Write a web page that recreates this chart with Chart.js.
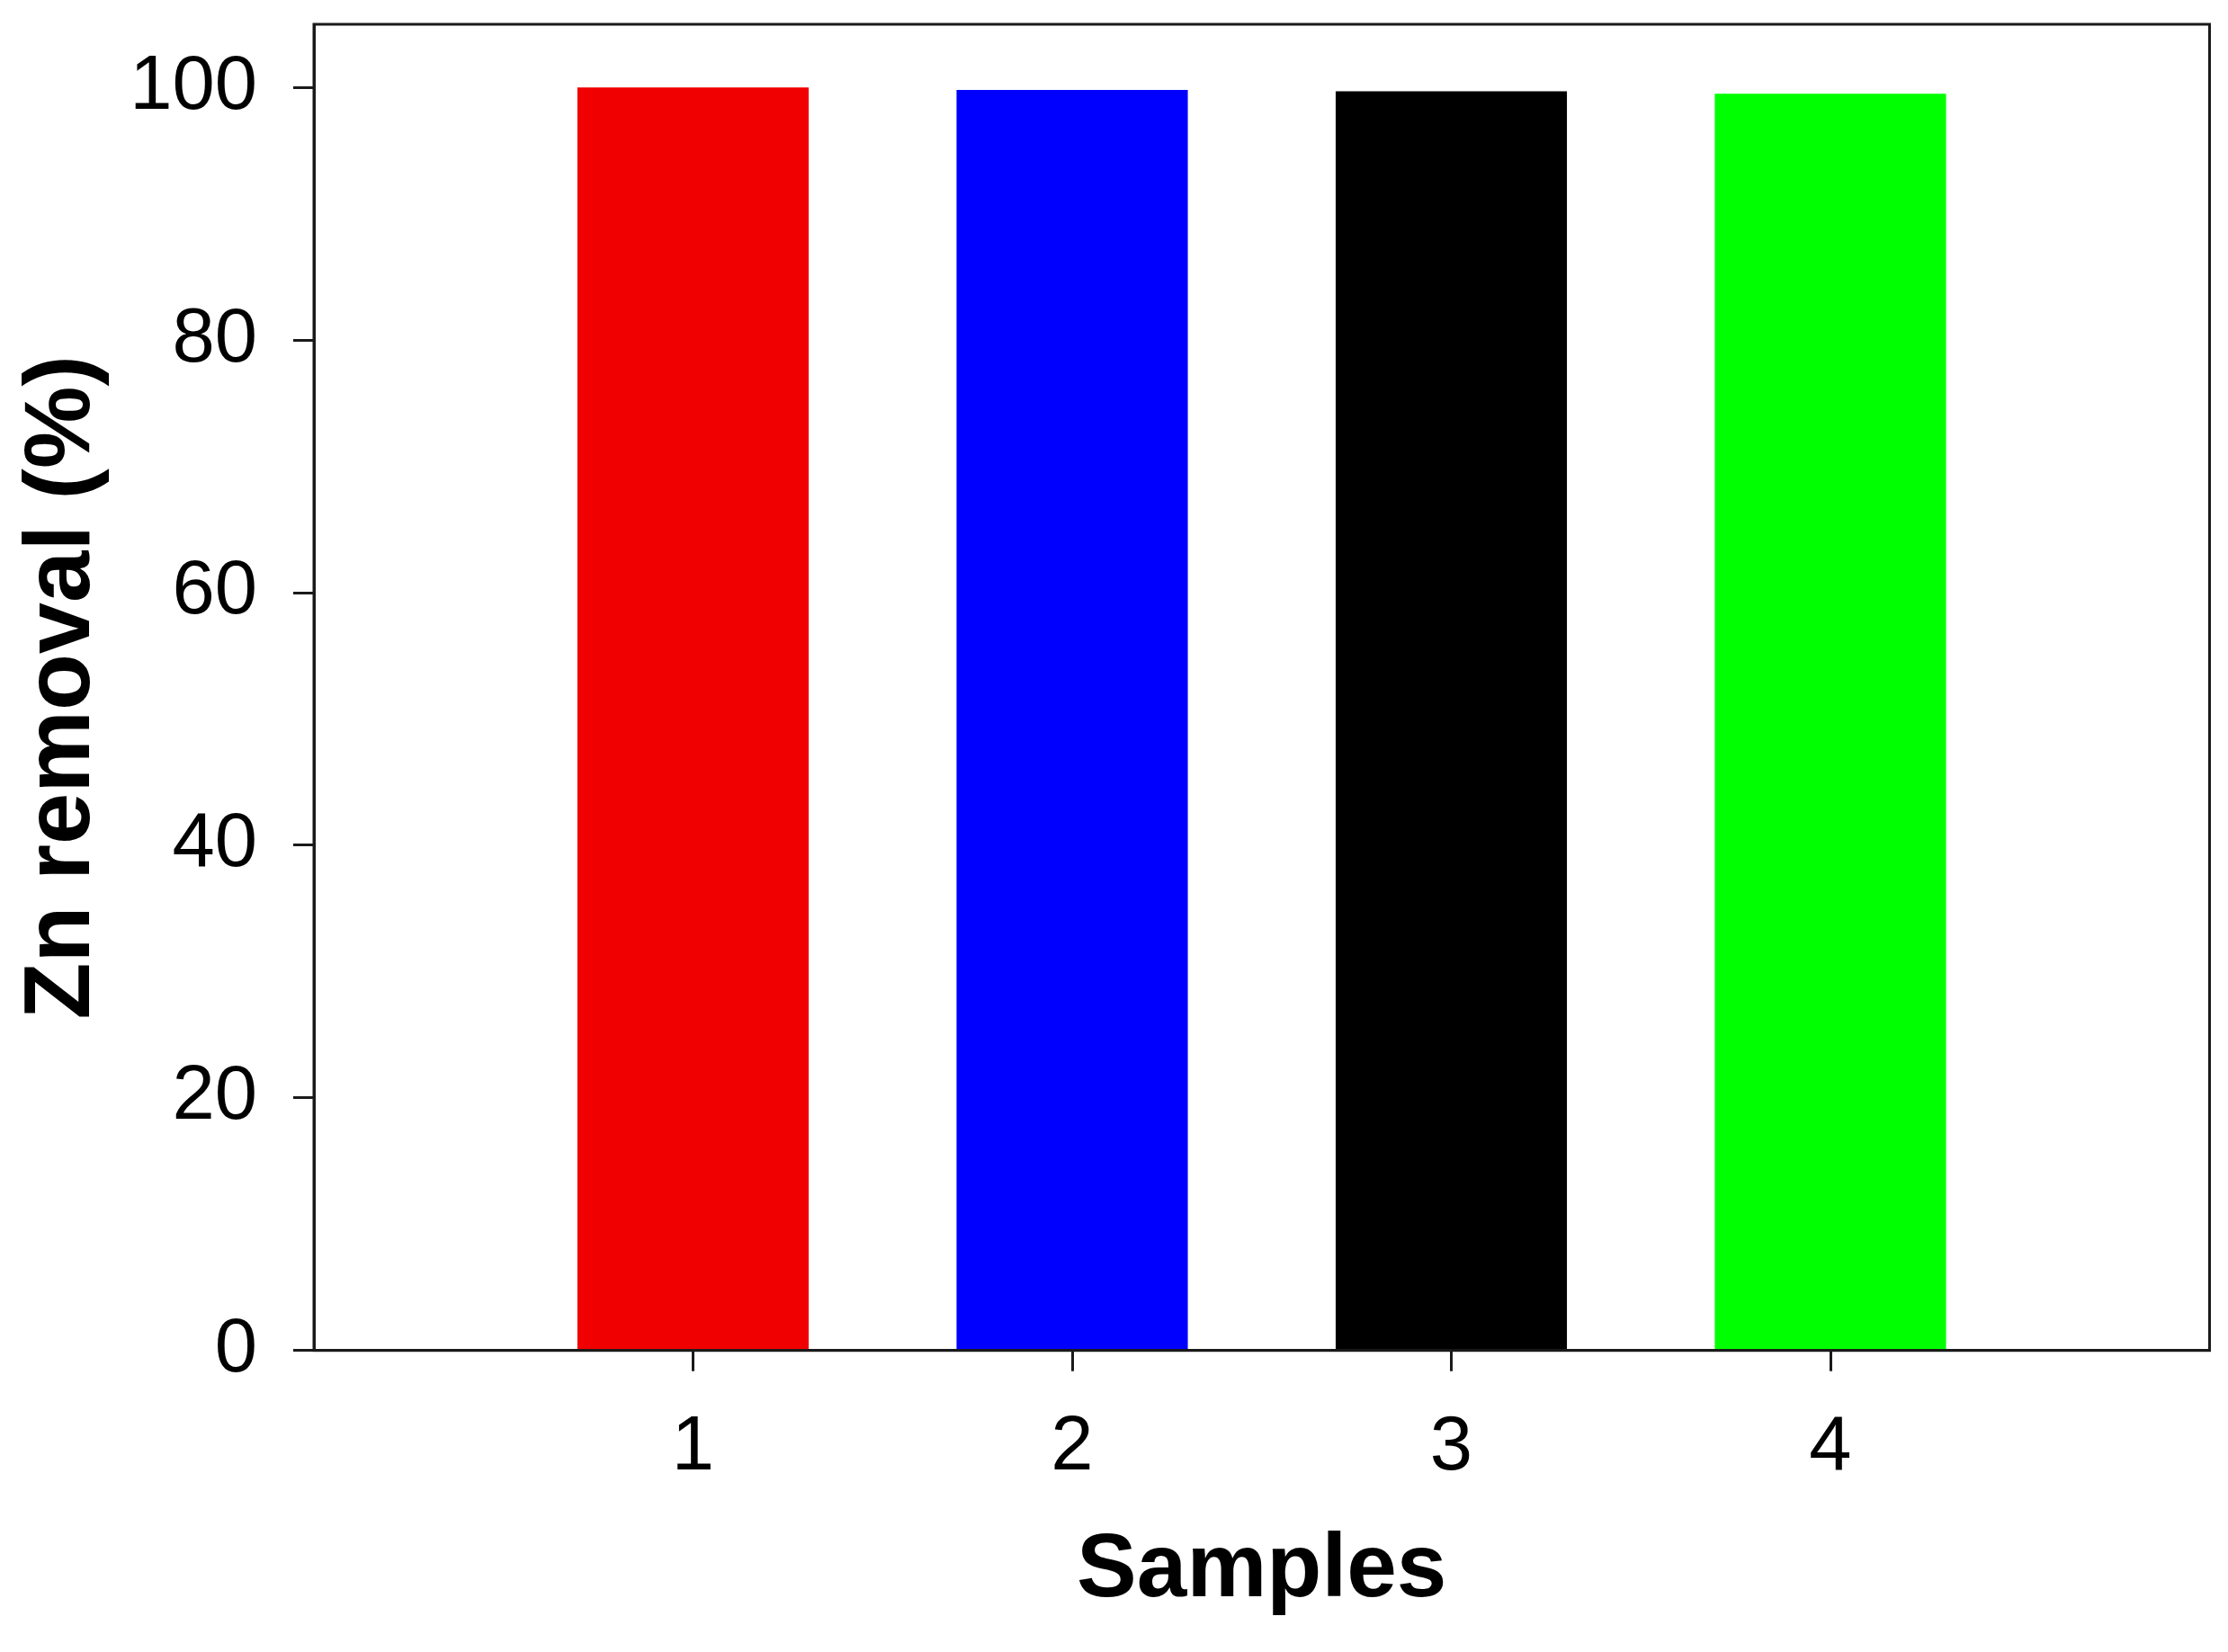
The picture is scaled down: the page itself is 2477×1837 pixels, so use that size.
<!DOCTYPE html>
<html>
<head>
<meta charset="utf-8">
<script src="https://cdn.jsdelivr.net/npm/chart.js@4/dist/chart.umd.min.js"></script>
<style>
  html, body { margin: 0; padding: 0; background: #fff; }
  canvas { display: block; }
</style>
</head>
<body>
<canvas id="chart" width="2477" height="1837"></canvas>
<script>
// data
var samples = [1, 2, 3, 4];
var znRemoval = [100, 99.8, 99.7, 99.5];
var barColors = ["#f00000", "#0000ff", "#000000", "#00ff00"];
var yTickValues = [0, 20, 40, 60, 80, 100];

var FONT = "'Liberation Sans', Arial, Helvetica, sans-serif";

// box round the plot area (top and right sides too)
var framePlugin = {
    id: "frame",
    afterDraw: function (chart) {
        var a = chart.chartArea;
        var ctx = chart.ctx;
        ctx.save();
        ctx.strokeStyle = "#1a1a1a";
        ctx.lineWidth = 3;
        ctx.strokeRect(a.left, a.top, a.right - a.left, a.bottom - a.top);
        ctx.restore();
    }
};

var points = samples.map(function (s, i) {
    return { x: s, y: znRemoval[i] };
});

new Chart(document.getElementById("chart").getContext("2d"), {
    type: "bar",
    data: {
        datasets: [{
            data: points,
            backgroundColor: barColors,
            borderWidth: 0,
            categoryPercentage: 1,
            barPercentage: 0.61
        }]
    },
    options: {
        responsive: false,
        animation: false,
        devicePixelRatio: 1,
        layout: { padding: { left: 0, right: 20.5, top: 27, bottom: 0 } },
        plugins: {
            legend: { display: false },
            tooltip: { enabled: false }
        },
        scales: {
            x: {
                type: "linear",
                min: 0,
                max: 5,
                offset: false,
                afterBuildTicks: function (scale) {
                    scale.ticks = samples.map(function (v) { return { value: v }; });
                },
                afterFit: function (scale) {
                    scale.height = 335.3;
                    scale.paddingLeft = 0;
                    scale.paddingRight = 0;
                },
                grid: {
                    display: true,
                    offset: false,
                    drawOnChartArea: false,
                    drawTicks: true,
                    tickLength: 23,
                    color: "#1a1a1a",
                    lineWidth: 3
                },
                border: { display: true, color: "#1a1a1a", width: 3 },
                ticks: {
                    color: "#000",
                    padding: 35,
                    maxRotation: 0,
                    font: { family: FONT, size: 85 },
                    callback: function (v) { return String(v); }
                },
                title: {
                    display: true,
                    text: "Samples",
                    color: "#000",
                    font: { family: FONT, size: 100, weight: "bold" },
                    padding: { top: 0, bottom: 30 }
                }
            },
            y: {
                min: 0,
                max: 105,
                afterBuildTicks: function (scale) {
                    scale.ticks = yTickValues.map(function (v) { return { value: v }; });
                },
                afterFit: function (scale) {
                    scale.width = 349;
                    scale.paddingTop = 0;
                    scale.paddingBottom = 0;
                },
                grid: {
                    display: true,
                    drawOnChartArea: false,
                    drawTicks: true,
                    tickLength: 23,
                    color: "#1a1a1a",
                    lineWidth: 3
                },
                border: { display: true, color: "#1a1a1a", width: 3 },
                ticks: {
                    color: "#000",
                    padding: 40,
                    font: { family: FONT, size: 85 },
                    callback: function (v) { return String(v); }
                },
                title: {
                    display: true,
                    text: "Zn removal (%)",
                    color: "#000",
                    font: { family: FONT, size: 103, weight: "bold" },
                    padding: { top: 9, bottom: 10 }
                }
            }
        }
    },
    plugins: [framePlugin]
});
</script>
</body>
</html>
